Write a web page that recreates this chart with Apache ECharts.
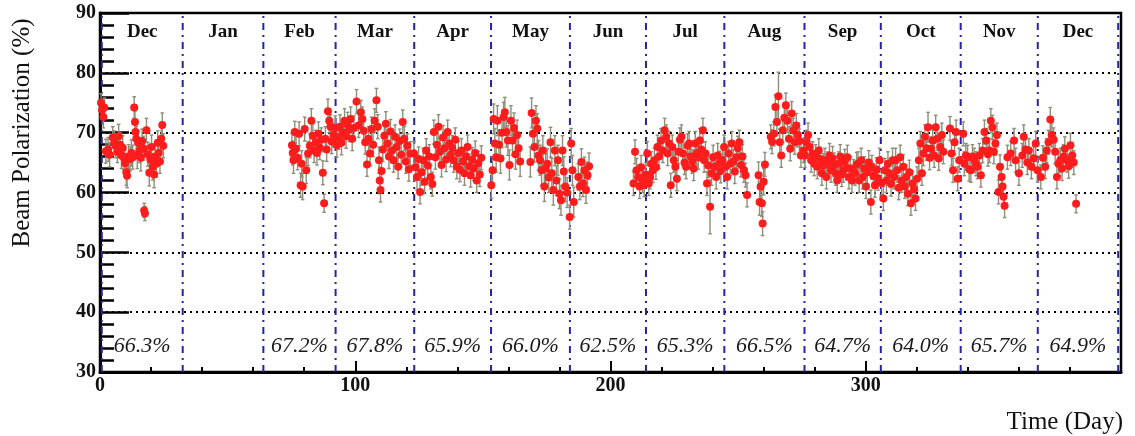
<!DOCTYPE html>
<html>
<head>
<meta charset="utf-8">
<script src="https://cdn.jsdelivr.net/npm/echarts@6/dist/echarts.min.js"></script>
<style>
  html, body { margin: 0; padding: 0; background: #ffffff; }
  #chart { width: 1135px; height: 436px; }
</style>
</head>
<body>
<div id="chart"></div>
<script>
// Month bands: label, monthly average polarization, band edges (day)
const monthNames = ['Dec', 'Jan', 'Feb', 'Mar', 'Apr', 'May', 'Jun', 'Jul', 'Aug', 'Sep', 'Oct', 'Nov', 'Dec'];
const monthAverages = ['66.3%', '', '67.2%', '67.8%', '65.9%', '66.0%', '62.5%', '65.3%', '66.5%', '64.7%', '64.0%', '65.7%', '64.9%'];
const monthEdges = [0.7, 32.4, 64.0, 92.3, 123.1, 153.2, 184.1, 213.9, 244.6, 276.0, 305.9, 337.2, 367.4, 398.9];

// Measurements: [day, polarization (%), error (%)]
const runsDec = [
  [0.4,75.0,1.5],[0.8,73.8,1.5],[1.3,72.6,1.8],[1.7,74.2,1.6],[2.3,66.9,2.0],[3.2,67.2,2.0],[3.8,66.3,2.0],
  [5.0,69.2,1.8],[5.6,68.3,2.0],[6.2,67.8,2.0],[6.8,66.8,1.8],[7.3,69.4,2.0],[7.8,68.0,2.0],[8.4,66.2,2.2],
  [8.9,67.5,2.0],[9.4,65.8,2.0],[9.8,64.9,2.2],[10.3,63.4,2.2],[10.6,62.8,2.0],[11.2,66.0,2.0],[11.8,65.6,2.0],
  [12.3,66.6,2.2],[12.8,65.9,2.0],[13.4,74.2,1.8],[13.7,71.8,1.8],[13.9,70.1,2.0],[14.2,69.0,2.0],[14.6,66.2,2.2],
  [15.0,68.3,2.0],[15.5,67.0,2.0],[16.0,65.8,2.2],[16.5,68.6,2.0],[17.0,67.4,2.0],[17.3,57.0,1.2],[17.6,56.5,1.2],
  [18.2,70.4,2.0],[18.7,66.4,2.0],[19.3,63.3,2.2],[19.7,65.5,2.0],[20.2,67.6,2.0],[20.7,64.3,2.2],[21.2,63.0,2.2],
  [21.6,66.0,2.0],[22.1,64.8,2.2],[22.6,68.3,2.0],[23.0,66.6,2.0],[23.5,65.2,2.0],[24.0,69.0,2.0],[24.4,71.3,2.0],
  [24.8,67.8,2.0]
];
const runsFeb = [
  [75.2,67.9,2.0],[75.5,66.6,2.0],[75.8,65.4,2.2],[76.3,70.1,1.8],[76.8,67.3,2.0],[77.4,65.8,2.0],[78.0,69.8,2.0],
  [78.6,61.2,2.0],[79.0,64.8,2.2],[79.4,61.0,2.2],[80.2,70.6,2.0],[80.8,63.7,2.2],[81.5,66.5,2.0],[82.2,67.8,2.0],
  [82.8,72.0,2.0],[83.4,69.5,2.0],[83.9,67.0,2.0],[84.5,68.4,2.0],[85.0,66.6,2.0],[85.6,69.8,2.0],[86.1,67.5,2.0],
  [86.7,68.8,2.0],[87.3,63.3,2.0],[87.8,58.2,1.5],[88.3,69.0,2.0],[88.8,67.2,2.0],[89.3,73.6,2.0],[89.8,72.0,2.0],
  [90.3,71.0,2.0],[90.8,68.5,2.0]
];
const runsMar = [
  [91.5,69.6,2.0],[92.2,70.8,2.0],[92.8,67.9,2.0],[93.4,69.2,2.0],[94.0,71.0,2.0],[94.6,68.3,2.0],[95.2,70.0,2.0],
  [95.8,72.0,2.0],[96.4,69.4,2.0],[97.0,71.4,2.0],[97.6,70.5,2.0],[98.2,72.3,2.0],[98.8,69.0,2.0],[99.5,70.8,2.0],
  [100.5,75.2,2.0],[101.3,71.2,2.0],[102.2,73.4,2.0],[102.8,72.3,2.0],[103.3,70.3,2.0],[103.9,68.4,2.0],[104.6,64.7,2.0],
  [105.2,69.0,2.0],[105.8,66.5,2.0],[106.4,70.6,2.0],[107.0,68.0,2.0],[107.6,72.0,2.0],[108.3,75.4,2.0],[108.8,71.0,2.0],
  [109.3,65.4,2.2],[109.6,62.0,2.2],[109.9,60.4,2.0],[110.3,63.6,2.0],[110.8,67.2,2.0],[111.4,69.5,2.0],[112.0,71.5,2.0],
  [112.6,68.2,2.0],[113.2,66.0,2.0],[113.8,70.2,2.0],[114.4,67.0,2.0],[115.0,65.4,2.0],[115.6,69.3,2.0],[116.2,67.6,2.0],
  [116.8,64.3,2.0],[117.4,68.6,2.0],[118.0,66.3,2.0],[118.6,71.8,2.0],[119.2,69.0,2.0],[119.8,65.2,2.0],[120.4,67.8,2.0],
  [121.0,63.9,2.0],[121.6,66.5,2.0]
];
const runsApr = [
  [123.0,66.5,2.0],[123.6,64.2,2.2],[124.2,62.6,2.2],[124.8,65.6,2.0],[125.4,60.1,2.0],[126.0,63.4,2.2],[126.6,65.4,2.0],
  [127.2,61.8,2.0],[127.8,67.0,2.0],[128.4,64.5,2.0],[129.0,66.0,2.0],[129.6,62.6,2.0],[130.2,61.4,2.0],[130.8,70.1,2.0],
  [131.4,65.9,2.0],[132.0,68.0,2.0],[132.6,71.0,2.0],[133.2,66.8,2.0],[133.8,64.6,2.0],[134.4,69.2,2.0],[135.0,67.4,2.0],
  [135.6,65.5,2.0],[136.2,70.1,2.0],[136.8,68.2,2.0],[137.4,66.3,2.0],[138.0,67.5,2.0],[138.6,65.4,2.0],[139.2,68.8,2.0],
  [139.8,64.3,2.0],[140.4,66.6,2.0],[141.0,63.8,2.0],[141.6,67.0,2.0],[142.2,65.2,2.0],[142.8,63.2,2.0],[143.4,66.0,2.0],
  [144.0,67.6,2.0],[144.6,64.4,2.0],[145.2,62.9,2.0],[145.8,65.5,2.0],[146.4,64.0,2.0],[147.0,66.6,2.0],[147.6,62.0,2.0],
  [148.2,64.9,2.0],[148.8,63.0,2.0],[149.4,65.8,2.0]
];
const runsMay = [
  [153.3,61.2,2.2],[153.8,63.7,2.2],[154.2,72.3,2.5],[154.7,68.2,2.5],[155.2,65.9,2.5],[155.7,72.0,2.5],[156.3,68.0,2.5],
  [156.9,65.7,2.5],[157.5,70.0,2.5],[158.1,72.6,2.5],[158.6,73.4,2.5],[159.2,70.1,2.5],[159.8,68.7,2.5],[160.4,64.6,2.5],
  [161.0,72.0,2.5],[161.6,68.7,2.5],[162.2,70.8,2.5],[162.8,66.4,2.5],[163.4,69.6,2.5],[164.0,67.4,2.5],[164.6,65.2,2.5],
  [168.6,65.1,2.5],[169.1,73.3,2.5],[169.6,69.8,2.5],[170.2,67.6,2.5],[170.8,72.0,2.5],[171.3,70.7,2.5],[171.8,66.2,2.5],
  [172.4,65.4,2.5],[173.0,63.7,2.5],[173.5,67.0,2.5],[174.1,61.0,2.5],[174.6,64.0,2.5],[175.2,64.8,2.5],[175.8,62.5,2.5],
  [176.5,68.4,2.5],[177.0,63.2,2.5],[177.6,60.4,2.5],[178.2,67.0,2.5],[178.8,62.0,2.5],[179.4,65.4,2.5],[180.0,59.8,2.5],
  [180.6,58.7,2.5],[181.2,67.0,2.5],[181.7,63.5,2.5],[182.3,61.0,2.5],[183.0,60.0,2.5]
];
const runsJun = [
  [184.0,55.9,2.0],[184.6,68.2,2.5],[185.1,63.7,2.5],[185.6,58.4,2.5],
  [187.4,62.6,2.2],[188.0,61.0,2.2],[188.6,65.1,2.2],[189.2,61.5,2.2],[189.8,63.7,2.2],[190.4,60.4,2.2],[191.0,62.9,2.2],
  [191.6,64.4,2.2],
  [209.0,61.5,2.0],[209.6,66.8,2.0],[210.2,63.7,2.0],[210.8,62.6,2.0],[211.4,61.0,2.0],[212.0,64.2,2.0],[212.6,62.0,2.0],
  [213.2,61.3,2.0]
];
const runsJul = [
  [213.8,63.0,2.0],[214.4,66.5,2.0],[215.0,61.5,2.0],[215.5,62.6,2.0],[216.0,64.8,2.0],[216.6,63.7,2.0],[217.2,65.4,2.0],
  [217.8,64.2,2.0],[218.4,67.6,2.0],[219.0,66.0,2.0],[219.8,68.7,2.0],[220.5,67.0,2.0],[221.2,70.4,2.0],[221.8,69.3,2.0],
  [222.4,66.5,2.0],[223.0,68.2,2.0],[223.6,61.2,2.0],[224.2,67.6,2.0],[224.8,65.4,2.0],[225.4,64.3,2.0],[226.0,62.3,2.0],
  [226.6,66.8,2.0],[227.2,68.8,2.0],[227.8,69.3,2.0],[228.4,66.5,2.0],[229.0,65.0,2.0],[229.6,64.3,2.0],[230.2,67.8,2.0],
  [230.8,68.2,2.0],[231.4,66.0,2.0],[232.0,65.2,2.0],[232.6,64.0,2.0],[233.2,68.2,2.0],[233.8,66.6,2.0],[234.4,65.9,2.0],
  [235.0,68.7,2.0],[235.6,67.2,2.0],[236.2,70.4,2.0],[236.7,65.4,2.0],[237.2,66.5,2.0],[237.8,61.5,2.0],[238.3,64.5,2.0],
  [239.0,57.6,4.5],[239.6,63.2,2.0],[240.2,65.9,2.0],[240.8,64.3,2.0],[241.4,62.6,2.0],[242.0,66.2,2.0],[242.6,64.9,2.0],
  [243.2,63.6,2.0],[243.8,65.4,2.0]
];
const runsAug = [
  [244.5,67.6,2.0],[245.1,64.3,2.0],[245.7,62.6,2.0],[246.3,66.5,2.0],[246.9,64.8,2.0],[247.5,68.2,2.0],[248.1,65.2,2.0],
  [248.7,63.5,2.0],[249.3,65.9,2.0],[249.9,67.4,2.0],[250.5,68.4,2.0],[251.1,64.6,2.0],[251.7,66.0,2.0],[252.3,63.7,2.0],
  [252.9,62.9,2.0],[253.5,59.6,2.0],
  [258.0,62.9,2.2],[258.4,58.4,2.2],[258.8,61.0,2.2],[259.3,58.2,2.2],[259.6,54.8,2.0],[260.0,61.8,2.2],[260.5,64.7,2.0],
  [262.8,69.3,2.0],[263.3,68.5,2.0],[264.0,69.8,2.0],[264.6,74.3,2.0],[265.2,71.8,2.2],[265.8,76.1,4.0],[266.3,68.4,2.2],
  [266.9,66.2,2.0],[267.5,70.4,2.0],[268.1,72.5,2.0],[268.7,74.6,2.0],[269.3,72.0,2.0],[269.9,69.0,2.0],[270.4,67.3,2.0],
  [271.0,73.2,2.0],[271.6,70.4,2.0],[272.2,68.4,2.0],[272.8,71.2,2.0],[273.4,69.6,2.0],[274.0,68.6,2.0],[274.6,66.2,2.0]
];
const runsSep = [
  [275.6,67.0,2.0],[276.2,66.2,2.0],[276.8,68.4,2.0],[277.4,69.6,2.0],[278.0,67.6,2.0],[278.6,65.4,2.0],[279.2,66.5,2.0],
  [279.8,64.8,2.0],[280.4,66.0,2.0],[281.0,64.3,2.0],[281.6,67.0,2.0],[282.2,65.6,2.0],[282.8,63.2,2.0],[283.4,64.5,2.0],
  [284.0,65.4,2.0],[284.6,62.6,2.0],[285.2,64.8,2.0],[285.8,66.2,2.0],[286.4,63.7,2.0],[287.0,65.7,2.0],[287.6,64.6,2.0],
  [288.2,63.2,2.0],[288.8,62.0,2.0],[289.4,64.8,2.0],[290.0,66.0,2.0],[290.6,63.0,2.0],[291.2,63.7,2.0],[291.8,65.2,2.0],
  [292.4,64.1,2.0],[292.8,65.9,2.0],[293.4,62.6,2.0],[294.0,64.0,2.0],[294.6,62.0,2.0],[295.2,63.5,2.0],[295.8,63.2,2.0],
  [296.4,64.7,2.0],[297.0,64.8,2.0],[297.4,62.0,2.0],[298.2,65.4,2.0],[298.8,62.6,2.0],[299.4,64.0,2.0],[300.1,61.0,2.0],
  [300.6,63.4,2.0],[301.2,65.0,2.0],[302.0,58.4,2.0],[302.4,64.2,2.0],[303.0,62.8,2.0],[303.6,61.2,2.0],[304.2,63.8,2.0],
  [304.8,62.4,2.0],[305.4,65.4,2.0]
];
const runsOct = [
  [306.2,61.6,2.0],[306.9,59.0,2.0],[307.5,63.7,2.0],[308.1,62.0,2.0],[308.7,64.8,2.0],[309.3,63.2,2.0],[309.9,61.4,2.0],
  [310.5,65.4,2.0],[311.1,62.6,2.0],[311.7,65.4,2.0],[312.3,63.7,2.0],[312.9,60.8,2.0],[313.5,65.9,2.0],[314.1,62.0,2.0],
  [314.7,64.3,2.0],[315.3,61.0,2.0],[315.9,62.6,2.0],[316.5,59.8,2.0],[317.1,63.4,2.0],[317.7,58.2,2.0],[318.3,61.5,2.0],
  [318.9,60.6,2.0],[319.5,59.0,2.0],[320.1,62.3,2.0],[320.8,65.4,2.0],[321.4,68.2,2.0],[322.0,63.2,2.0],[322.6,66.5,2.0],
  [323.2,69.3,2.0],[323.8,67.4,2.0],[324.4,70.9,2.5],[325.0,65.8,2.0],[325.6,67.3,2.0],[326.2,68.7,2.0],[326.8,66.2,2.0],
  [327.4,70.9,2.0],[328.0,69.0,2.0],[328.6,65.7,2.0],[329.2,67.6,2.0],[329.8,69.6,2.0],[330.4,66.8,2.0],[333.0,70.7,2.0],
  [333.6,66.5,2.0],[334.2,63.7,2.0],[334.8,68.4,2.0],[335.4,70.1,2.0],[336.0,62.3,2.0],[336.6,65.4,2.0]
];
const runsNov = [
  [338.2,69.8,2.0],[338.6,64.8,2.0],[339.2,66.2,2.0],[339.9,65.9,2.0],[340.5,63.9,2.0],[341.2,63.7,2.0],[341.8,66.0,2.0],
  [342.5,65.4,2.0],[343.2,64.8,2.0],[343.8,64.3,2.0],[344.5,66.2,2.0],[345.1,62.9,2.0],[345.8,67.0,2.0],[346.5,70.1,2.0],
  [347.2,68.7,2.0],[347.9,66.4,2.0],[348.5,67.0,2.0],[349.0,72.0,2.0],[349.6,70.9,2.0],[350.2,66.8,2.0],[350.8,68.2,2.0],
  [351.4,69.6,2.0],[352.0,60.1,2.0],[352.6,64.3,2.0],[353.2,62.6,2.0],[353.6,61.0,2.0],[354.0,59.3,2.0],[354.4,57.8,2.0],
  [355.5,65.9,2.0],[356.8,66.5,2.0],[358.1,68.7,2.0],[358.7,65.4,2.0],[360.0,63.2,2.0],[361.3,66.2,2.0],[361.9,69.3,2.0],
  [362.6,67.2,2.0],[363.3,65.0,2.0],[363.9,67.0,2.0],[364.9,64.3,2.0],[365.8,65.7,2.0],[366.6,68.2,2.0]
];
const runsDec2 = [
  [367.3,63.7,2.0],[368.6,62.6,2.0],[369.4,65.8,2.0],[370.3,64.3,2.0],[370.9,67.0,2.0],[371.6,68.4,2.0],[372.3,72.2,2.0],
  [372.9,69.6,2.0],[373.6,68.8,2.0],[374.2,66.8,2.0],[374.9,62.6,2.0],[375.5,64.8,2.0],[376.2,65.4,2.0],[376.9,64.0,2.0],
  [377.5,66.0,2.0],[378.0,67.3,2.0],[378.9,65.4,2.0],[379.5,64.4,2.0],[380.2,67.9,2.0],[380.9,66.2,2.0],[381.5,65.0,2.0],
  [382.4,58.1,1.5]
];

const measurements = [].concat(runsDec, runsFeb, runsMar, runsApr, runsMay, runsJun,
  runsJul, runsAug, runsSep, runsOct, runsNov, runsDec2);

const SERIF = '"Liberation Serif", "DejaVu Serif", serif';
const Y_MIN = 30, Y_MAX = 90;
const LABEL_Y_MONTH = 86.8;
const LABEL_Y_AVG = 34.3;

const monthCenters = monthNames.map((_, i) => (monthEdges[i] + monthEdges[i + 1]) / 2);

const chart = echarts.init(document.getElementById('chart'), null, { renderer: 'canvas' });

const option = {
  backgroundColor: '#ffffff',
  animation: false,
  grid: {
    left: 100, top: 13, right: 14, bottom: 64,
    show: true, borderColor: '#000', borderWidth: 2.5, backgroundColor: 'transparent',
    containLabel: false, outerBoundsMode: 'none'
  },
  xAxis: {
    type: 'value', min: 0, max: 400, interval: 100,
    axisLine: { show: true, onZero: false, lineStyle: { color: '#000', width: 3 } },
    axisTick: { show: true, inside: true, length: 11, lineStyle: { color: '#000', width: 2 } },
    minorTick: { show: true, splitNumber: 5, length: 5, lineStyle: { color: '#000', width: 2 } },
    splitLine: { show: false },
    axisLabel: {
      margin: 4, color: '#111', fontFamily: SERIF, fontWeight: 'bold', fontSize: 20,
      showMaxLabel: false,
      formatter: v => (v >= 400 ? '' : String(v))
    }
  },
  yAxis: {
    type: 'value', min: Y_MIN, max: Y_MAX, interval: 10,
    axisLine: { show: true, onZero: false, lineStyle: { color: '#000', width: 3 } },
    axisTick: { show: true, inside: true, length: 29, lineStyle: { color: '#000', width: 2.5 } },
    minorTick: { show: true, splitNumber: 5, length: 14, lineStyle: { color: '#000', width: 2.5 } },
    splitLine: { show: true, lineStyle: { color: '#000', width: 2, type: [2, 4] } },
    axisLabel: {
      margin: 4, color: '#111', fontFamily: SERIF, fontWeight: 'bold', fontSize: 20
    }
  },
  graphic: [
    {
      type: 'text', x: 22, y: 133, rotation: Math.PI / 2,
      style: {
        text: 'Beam Polarization (%)', fill: '#111', font: '25px ' + SERIF,
        textAlign: 'center', textVerticalAlign: 'middle'
      }
    },
    {
      type: 'text', x: 1123, y: 422,
      style: {
        text: 'Time (Day)', fill: '#111', font: '25px ' + SERIF,
        textAlign: 'right', textVerticalAlign: 'middle'
      }
    }
  ],
  series: [
    {
      // month boundaries
      type: 'custom', name: 'months', z: 3, silent: true,
      data: monthEdges.map(d => [d, Y_MIN]),
      encode: { x: 0, y: 1 },
      renderItem: (params, api) => {
        const d = api.value(0);
        const p0 = api.coord([d, Y_MIN]);
        const p1 = api.coord([d, Y_MAX]);
        return {
          type: 'line',
          shape: { x1: p0[0], y1: p0[1], x2: p1[0], y2: p1[1] },
          style: { stroke: '#2424a4', lineWidth: 2, lineDash: [7, 5, 2, 5] }
        };
      }
    },
    {
      // error bars
      type: 'custom', name: 'errors', z: 4, silent: true,
      data: measurements,
      encode: { x: 0, y: 1 },
      renderItem: (params, api) => {
        const x = api.value(0), y = api.value(1), e = api.value(2);
        const top = api.coord([x, y + e]);
        const bot = api.coord([x, y - e]);
        const st = { stroke: '#8e8e78', lineWidth: 1.4 };
        return {
          type: 'group',
          children: [
            { type: 'line', shape: { x1: top[0], y1: top[1], x2: bot[0], y2: bot[1] }, style: st },
            { type: 'line', shape: { x1: top[0] - 1.8, y1: top[1], x2: top[0] + 1.8, y2: top[1] }, style: st },
            { type: 'line', shape: { x1: bot[0] - 1.8, y1: bot[1], x2: bot[0] + 1.8, y2: bot[1] }, style: st }
          ]
        };
      }
    },
    {
      type: 'scatter', name: 'polarization', z: 5, silent: true,
      data: measurements.map(m => [m[0], m[1]]),
      symbol: 'circle', symbolSize: 8,
      itemStyle: { color: '#ff1c1c', borderWidth: 0, opacity: 1 }
    },
    {
      // month names and monthly averages
      type: 'custom', name: 'labels', z: 6, silent: true,
      data: monthCenters.map(c => [c, LABEL_Y_MONTH]),
      encode: { x: 0, y: 1 },
      renderItem: (params, api) => {
        const i = params.dataIndex;
        const c = api.value(0);
        const pm = api.coord([c, LABEL_Y_MONTH]);
        const pa = api.coord([c, LABEL_Y_AVG]);
        return {
          type: 'group',
          children: [
            {
              type: 'text', x: pm[0], y: pm[1],
              style: {
                text: monthNames[i], fill: '#111', font: 'bold 19px ' + SERIF,
                textAlign: 'center', textVerticalAlign: 'middle'
              }
            },
            {
              type: 'text', x: pa[0], y: pa[1],
              style: {
                text: monthAverages[i], fill: '#1a1a1a', font: 'italic 22px ' + SERIF,
                textAlign: 'center', textVerticalAlign: 'middle'
              }
            }
          ]
        };
      }
    }
  ]
};

chart.setOption(option);
</script>
</body>
</html>
